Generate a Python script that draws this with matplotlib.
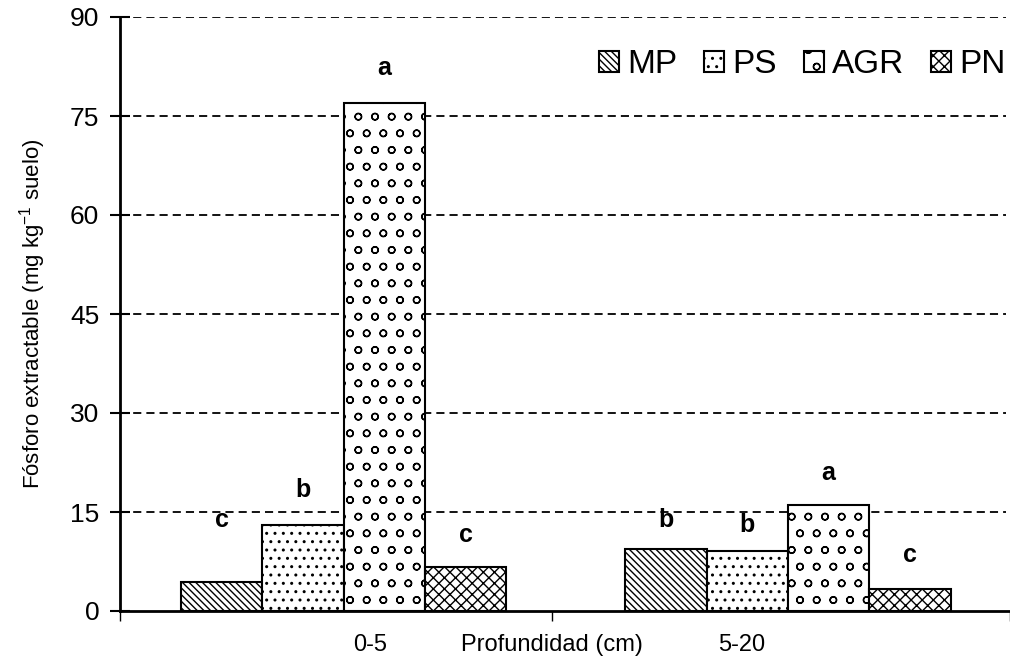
import matplotlib
matplotlib.use("Agg")
import matplotlib.pyplot as plt
import numpy as np

plt.rcParams["font.family"] = ["Liberation Sans", "DejaVu Sans"]
plt.rcParams["hatch.linewidth"] = 1.0
plt.rcParams["mathtext.fontset"] = "custom"
plt.rcParams["mathtext.rm"] = "Liberation Sans"

depths = ["0-5", "5-20"]
treatments = ["MP", "PS", "AGR", "PN"]
values = {
    "MP": [4.4, 9.4],
    "PS": [13.0, 9.1],
    "AGR": [77.0, 16.1],
    "PN": [6.7, 3.3],
}
letters = {
    "MP": ["c", "b"],
    "PS": ["b", "b"],
    "AGR": ["a", "a"],
    "PN": ["c", "c"],
}
letter_y = {
    "MP": [13.8, 13.8],
    "PS": [18.3, 13.0],
    "AGR": [82.3, 20.9],
    "PN": [11.5, 8.5],
}
hatches = {"MP": "\\\\\\\\\\", "PS": "..", "AGR": "o", "PN": "xxx"}

fig = plt.figure(figsize=(10.10, 6.69), dpi=100)
ax = fig.add_axes([120 / 1010, 58 / 669, 890 / 1010, 594 / 669])

x = np.array([0.0, 1.0])
w = 0.183
for i, t in enumerate(treatments):
    xs = x + (i - 1.5) * w
    ax.bar(xs, values[t], width=w, color="white", edgecolor="black",
           linewidth=1.5, hatch=hatches[t], label=t, zorder=3)
    for xi, lab, ly in zip(xs, letters[t], letter_y[t]):
        ax.text(xi, ly, lab, ha="center", va="center", fontsize=18,
                fontweight="bold", zorder=4)

ax.set_ylim(0, 90)
ax.set_xlim(-0.503, 1.4997)
ax.set_yticks(np.arange(0, 91, 15))
ax.tick_params(axis="y", labelsize=19, direction="inout", length=14, width=1.5, pad=8)
ax.set_xticks([-0.503, 0.469, 1.4997])
ax.set_xticklabels([])
ax.tick_params(axis="x", direction="out", length=7, width=1)
for y in np.arange(15, 91, 15):
    ax.axhline(y, color="black", ls=(0, (4.5, 2.8)), lw=1.3, xmax=0.995, zorder=1)
for s in ["top", "right"]:
    ax.spines[s].set_visible(False)
for s in ["left", "bottom"]:
    ax.spines[s].set_linewidth(2)

ax.set_ylabel("Fósforo extractable (mg kg$^{\\mathregular{-1}}$ suelo)",
              fontsize=16, labelpad=16)
ax.text(0.06, -0.057, depths[0], transform=ax.get_xaxis_transform(),
        ha="center", va="center", fontsize=17)
ax.text(0.896, -0.057, depths[1], transform=ax.get_xaxis_transform(),
        ha="center", va="center", fontsize=17)
ax.text(0.469, -0.057, "Profundidad (cm)", transform=ax.get_xaxis_transform(),
        ha="center", va="center", fontsize=17)

ax.legend(loc="center right", ncol=4, frameon=False, fontsize=24,
          handlelength=0.6, handleheight=0.6, handletextpad=0.25,
          columnspacing=0.8, borderpad=0, borderaxespad=0,
          bbox_to_anchor=(0.995, 0.92))

fig.savefig("out.png", dpi=100)
